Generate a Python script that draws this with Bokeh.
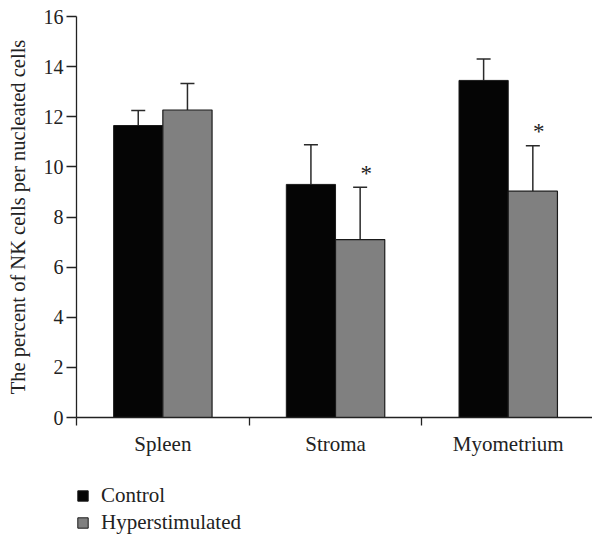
from bokeh.plotting import figure
from bokeh.layouts import column
from bokeh.models import Range1d, FixedTicker, Whisker, TeeHead, ColumnDataSource, Legend, LegendItem
from bokeh.core.properties import value
from bokeh.embed import file_html
from bokeh.resources import INLINE

categories = ["Spleen", "Stroma", "Myometrium"]
control = [11.65, 9.30, 13.45]
control_err = [0.60, 1.58, 0.85]
hyper = [12.27, 7.10, 9.03]
hyper_err = [1.06, 2.09, 1.81]
significant = [False, True, True]
y_ticks = [0, 2, 4, 6, 8, 10, 12, 14, 16]
series_names = ["Control", "Hyperstimulated"]
series_colors = ["#050505", "#808080"]

FONT = "Liberation Serif"
BW = 0.285
xc = [i + 0.5 for i in range(len(categories))]
x_ctrl = [x - BW / 2 for x in xc]
x_hyp = [x + BW / 2 for x in xc]

p = figure(width=592, height=470, output_backend="svg", toolbar_location=None,
           x_range=Range1d(0, 2.988), y_range=Range1d(0, 16),
           min_border_left=76, min_border_right=0, min_border_top=16, min_border_bottom=53)
p.outline_line_color = None
p.grid.visible = False

src_c = ColumnDataSource(dict(x=x_ctrl, top=control, up=[v + e for v, e in zip(control, control_err)]))
src_h = ColumnDataSource(dict(x=x_hyp, top=hyper, up=[v + e for v, e in zip(hyper, hyper_err)]))

p.vbar(x="x", top="top", width=BW, source=src_c, fill_color=series_colors[0], line_color="#1a1a1a", line_width=1)
p.vbar(x="x", top="top", width=BW, source=src_h, fill_color=series_colors[1], line_color="#1a1a1a", line_width=1.2)

for src in (src_c, src_h):
    w = Whisker(base="x", lower="top", upper="up", source=src, line_color="#2a2a2a", line_width=1.5,
                upper_head=TeeHead(size=14, line_color="#2a2a2a", line_width=1.5), lower_head=None)
    p.add_layout(w)

sx = [x for x, s in zip(x_hyp, significant) if s]
sy = [v + e for v, e, s in zip(hyper, hyper_err, significant) if s]
p.text(x=sx, y=sy, text=["*"] * len(sx), x_offset=6, y_offset=-14, text_align="center",
       text_baseline="middle", text_font=value(FONT), text_font_size="23px", text_color="#222222")

# axes
p.yaxis.ticker = FixedTicker(ticks=y_ticks)
p.yaxis.axis_label = "The percent of NK cells per nucleated cells"
p.yaxis.axis_label_text_font = FONT
p.yaxis.axis_label_text_font_style = "normal"
p.yaxis.axis_label_text_font_size = "20.5px"
p.yaxis.axis_label_standoff = 12
p.yaxis.major_tick_out = 10
p.yaxis.major_tick_in = 0
p.yaxis.minor_tick_line_color = None
p.yaxis.major_label_standoff = 3

p.xaxis.ticker = FixedTicker(ticks=xc, minor_ticks=[0, 1, 2, 3])
p.xaxis.major_label_overrides = {x: c for x, c in zip(xc, categories)}
p.xaxis.major_tick_line_color = None
p.xaxis.major_tick_out = 0
p.xaxis.major_tick_in = 0
p.xaxis.minor_tick_out = 8
p.xaxis.minor_tick_in = 0
p.xaxis.minor_tick_line_color = "#222222"
p.xaxis.major_label_standoff = 6

for ax in (p.xaxis[0], p.yaxis[0]):
    ax.axis_line_color = "#222222"
    ax.axis_line_width = 1.3
    ax.major_tick_line_width = 1.3
    ax.minor_tick_line_width = 1.3
    ax.major_label_text_font = FONT
    ax.major_label_text_color = "#222222"
    ax.axis_label_text_color = "#222222"
p.yaxis.major_label_text_font_size = "20px"
p.xaxis.major_label_text_font_size = "21px"
p.yaxis.major_tick_line_color = "#222222"

# legend panel (its frame is aligned with the main plot's frame by the column layout)
lg = figure(width=592, height=65, output_backend="svg", toolbar_location=None,
            x_range=Range1d(0, 1), y_range=Range1d(0, 1),
            x_axis_location=None, y_axis_location=None,
            min_border_left=0, min_border_right=0, min_border_top=0, min_border_bottom=0)
lg.grid.visible = False
lg.outline_line_color = None
items = []
for name, col in zip(series_names, series_colors):
    r = lg.vbar(x=[5], top=[0.5], width=0.1, fill_color=col, line_color="#1a1a1a", line_width=1)
    items.append(LegendItem(label=name, renderers=[r]))
legend = Legend(items=items, location=(0, 0), orientation="vertical")
legend.border_line_color = None
legend.background_fill_alpha = 0
legend.padding = 0
legend.margin = 0
legend.spacing = 2
legend.glyph_width = 13
legend.glyph_height = 13
legend.label_standoff = 12
legend.label_text_font = FONT
legend.label_text_font_size = "21px"
legend.label_text_color = "#222222"
legend.label_height = 13
lg.add_layout(legend, "center")

layout = column(p, lg, spacing=0)
open("out.html", "w").write(file_html(layout, INLINE))
